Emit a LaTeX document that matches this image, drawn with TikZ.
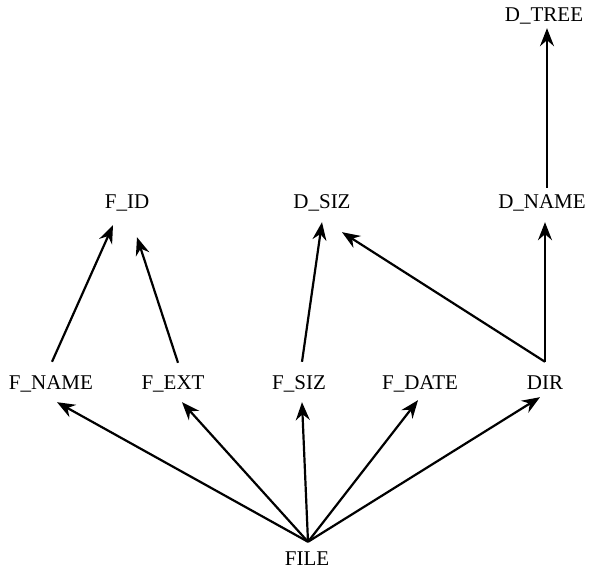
\documentclass[tikz,border=0pt]{standalone}
\usepackage{fontspec}
\setmainfont{Liberation Serif}
\usetikzlibrary{arrows.meta}
\begin{document}
\begin{tikzpicture}[x=1pt,y=1pt,
  lbl/.style={inner sep=0pt, text height=14pt, text depth=0pt, font=\fontsize{21}{24}\selectfont},
  arr/.style={line width=2.2pt, -{Stealth[length=18pt,width=14pt,inset=6pt]}}]
\useasboundingbox (0,0) rectangle (590,572);
\node[lbl] (DTREE) at (544,557) {D\_TREE};
\node[lbl] (FID)   at (127,370) {F\_ID};
\node[lbl] (DSIZ)  at (322,370) {D\_SIZ};
\node[lbl] (DNAME) at (542,370) {D\_NAME};
\node[lbl] (FNAME) at (51,189) {F\_NAME};
\node[lbl] (FEXT)  at (173,189) {F\_EXT};
\node[lbl] (FSIZ)  at (299,189) {F\_SIZ};
\node[lbl] (FDATE) at (420,189) {F\_DATE};
\node[lbl] (DIR)   at (545,189) {DIR};
\node[lbl] (FILE)  at (307,13) {FILE};
% FILE fan
\draw[arr] ([shift={(1,10)}]FILE.north) -- ([shift={(6,-12)}]FNAME.south);
\draw[arr] ([shift={(1,10)}]FILE.north) -- ([shift={(9,-12)}]FEXT.south);
\draw[arr] ([shift={(1,10)}]FILE.north) -- ([shift={(3,-12)}]FSIZ.south);
\draw[arr] ([shift={(1,10)}]FILE.north) -- ([shift={(-2,-10)}]FDATE.south);
\draw[arr] ([shift={(1,10)}]FILE.north) -- ([shift={(-5,-7)}]DIR.south);
% middle level
\draw[arr] ([shift={(1,14)}]FNAME.north) -- ([shift={(-14,-16)}]FID.south);
\draw[arr] ([shift={(5,13)}]FEXT.north) -- ([shift={(10,-28)}]FID.south);
\draw[arr] ([shift={(3,14)}]FSIZ.north) -- ([shift={(0,-13)}]DSIZ.south);
\draw[arr] ([shift={(0,14)}]DIR.north) -- ([shift={(20,-23)}]DSIZ.south);
\draw[arr] ([shift={(0,14)}]DIR.north) -- ([shift={(3,-13)}]DNAME.south);
\draw[arr] ([shift={(5,7)}]DNAME.north) -- ([shift={(3,-6)}]DTREE.south);
\end{tikzpicture}
\end{document}
